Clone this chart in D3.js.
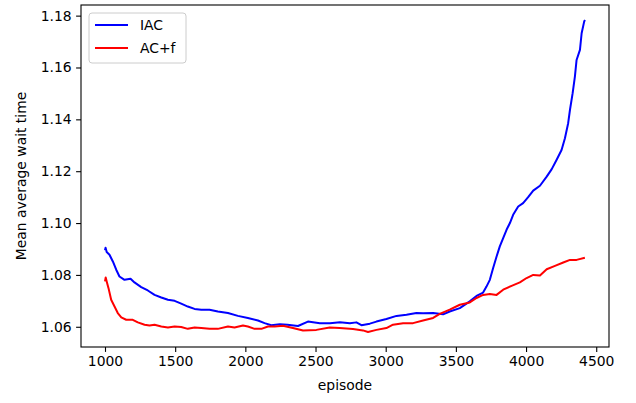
<!DOCTYPE html>
<html>
<head lang="en">
    <meta charset="UTF-8">
    <script type="text/javascript" src="https://cdn.jsdelivr.net/npm/d3@7/dist/d3.min.js"></script>
    <title></title>
</head>
<body style="margin:0;background:#fff">
<style>
    svg text{
        font-family: "DejaVu Sans", sans-serif;
        font-size: 13.9px;
        fill: #000;
    }
</style>
<script type="text/javascript">
    // data
    var seriesNames = ["IAC", "AC+f"];
    var seriesColors = ["#0000ff", "#ff0000"];
    var xTicks = [1000, 1500, 2000, 2500, 3000, 3500, 4000, 4500];
    var yTicks = [1.06, 1.08, 1.10, 1.12, 1.14, 1.16, 1.18];

    var iacEpisode = [1000, 1004, 1012, 1032, 1056, 1080, 1103, 1139, 1182, 1210, 1258, 1305, 1353, 1401, 1448, 1496,
        1543, 1590, 1638, 1686, 1745, 1804, 1876, 1947, 2018, 2090, 2137, 2185, 2246, 2300, 2375, 2446, 2531,
        2603, 2674, 2745, 2791, 2827, 2887, 2934, 3005, 3077, 3148, 3219, 3266, 3338, 3409, 3456, 3528, 3599,
        3647, 3694, 3718, 3742, 3765, 3790, 3813, 3837, 3861, 3885, 3908, 3944, 3979, 4015, 4051, 4099, 4147,
        4183, 4218, 4253, 4277, 4300, 4313, 4332, 4348, 4360, 4384, 4396, 4414, 4420];
    var iacWait = [1.0895, 1.0905, 1.0888, 1.0878, 1.0852, 1.0820, 1.0794, 1.0781, 1.0785, 1.0771, 1.0753, 1.0740,
        1.0723, 1.0713, 1.0704, 1.0700, 1.0689, 1.0678, 1.0669, 1.0666, 1.0666, 1.0659, 1.0653, 1.0642, 1.0634,
        1.0624, 1.0614, 1.0606, 1.0610, 1.0608, 1.0603, 1.0620, 1.0614, 1.0614, 1.0617, 1.0614, 1.0617, 1.0606,
        1.0612, 1.0620, 1.0630, 1.0642, 1.0646, 1.0653, 1.0652, 1.0653, 1.0648, 1.0659, 1.0672, 1.0698, 1.0719,
        1.0732, 1.0755, 1.0781, 1.0826, 1.0871, 1.0910, 1.0942, 1.0974, 1.1000, 1.1032, 1.1064, 1.1077, 1.1100,
        1.1125, 1.1144, 1.1179, 1.1208, 1.1244, 1.1282, 1.1327, 1.1385, 1.1437, 1.1501, 1.1565, 1.1629, 1.1668,
        1.1732, 1.1777, 1.1783];

    var acfEpisode = [1000, 1005, 1012, 1025, 1044, 1068, 1091, 1116, 1151, 1198, 1234, 1282, 1317, 1353, 1401,
        1448, 1496, 1543, 1590, 1638, 1686, 1745, 1804, 1876, 1923, 1983, 2018, 2066, 2114, 2161, 2209, 2268,
        2339, 2411, 2506, 2601, 2672, 2767, 2838, 2874, 2934, 3005, 3052, 3124, 3195, 3266, 3338, 3385, 3456,
        3528, 3599, 3647, 3694, 3742, 3790, 3837, 3897, 3956, 4004, 4051, 4099, 4147, 4206, 4265, 4313, 4360, 4419];
    var acfWait = [1.0775, 1.0790, 1.0775, 1.0749, 1.0704, 1.0678, 1.0653, 1.0636, 1.0627, 1.0627, 1.0617, 1.0608,
        1.0605, 1.0608, 1.0601, 1.0597, 1.0601, 1.0599, 1.0592, 1.0597, 1.0595, 1.0592, 1.0592, 1.0601, 1.0597,
        1.0605, 1.0601, 1.0592, 1.0592, 1.0601, 1.0601, 1.0604, 1.0595, 1.0586, 1.0588, 1.0597, 1.0595, 1.0591,
        1.0586, 1.0580, 1.0588, 1.0595, 1.0608, 1.0614, 1.0614, 1.0624, 1.0634, 1.0650, 1.0666, 1.0685, 1.0694,
        1.0711, 1.0723, 1.0726, 1.0723, 1.0743, 1.0758, 1.0771, 1.0788, 1.0800, 1.0798, 1.0822, 1.0835, 1.0848,
        1.0858, 1.0858, 1.0866];

    // 设置画布
    var w1 = 636;
    var h1 = 403;
    var padL = 81, padR = 609, padT = 5, padB = 347;
    var svg = d3.select("body")
            .append("svg")
            .attr("width", w1)
            .attr("height", h1);

    var x = d3.scaleLinear().domain([829, 4591]).range([padL, padR]);
    var y = d3.scaleLinear().domain([1.0522, 1.1841]).range([padB, padT]);

    var series = [
        {name: seriesNames[0], color: seriesColors[0], xs: iacEpisode, ys: iacWait},
        {name: seriesNames[1], color: seriesColors[1], xs: acfEpisode, ys: acfWait}
    ];

    var line = d3.line()
            .x(function (d) { return x(d[0]); })
            .y(function (d) { return y(d[1]); });

    // 画线
    series.forEach(function (s) {
        svg.append("path")
                .attr("d", line(d3.zip(s.xs, s.ys)))
                .attr("fill", "none")
                .attr("stroke", s.color)
                .attr("stroke-width", 2)
                .attr("stroke-linejoin", "round");
    });

    // axes
    var xAxis = svg.append("g")
            .attr("transform", "translate(0," + padB + ")")
            .call(d3.axisBottom(x).tickValues(xTicks).tickSize(4.9).tickPadding(4.5).tickFormat(d3.format("d")));
    var yAxis = svg.append("g")
            .attr("transform", "translate(" + padL + ",0)")
            .call(d3.axisLeft(y).tickValues(yTicks).tickSize(4.9).tickPadding(4.5).tickFormat(d3.format(".2f")));
    [xAxis, yAxis].forEach(function (a) {
        a.select(".domain").remove();
        a.selectAll("line").attr("stroke", "#000").attr("stroke-width", 1.1);
        a.selectAll("text").attr("font-family", "DejaVu Sans").attr("font-size", "13.9px").attr("fill", "#000");
    });

    svg.append("rect")
            .attr("x", padL).attr("y", padT)
            .attr("width", padR - padL).attr("height", padB - padT)
            .attr("fill", "none").attr("stroke", "#000").attr("stroke-width", 1.1);

    svg.append("text")
            .attr("x", (padL + padR) / 2).attr("y", 390)
            .attr("text-anchor", "middle")
            .text("episode");
    svg.append("text")
            .attr("transform", "translate(26," + (padT + padB) / 2 + ") rotate(-90)")
            .attr("text-anchor", "middle")
            .text("Mean average wait time");

    // legend
    var lg = svg.append("g");
    lg.append("rect")
            .attr("x", 89).attr("y", 13).attr("width", 97).attr("height", 50).attr("rx", 3)
            .attr("fill", "#fff").attr("fill-opacity", 0.8)
            .attr("stroke", "#cccccc").attr("stroke-width", 1);
    series.forEach(function (s, i) {
        var yy = 25 + i * 23;
        lg.append("line")
                .attr("x1", 95).attr("x2", 128).attr("y1", yy).attr("y2", yy)
                .attr("stroke", s.color).attr("stroke-width", 2);
        lg.append("text")
                .attr("x", 140).attr("y", yy + 5)
                .text(s.name);
    });
</script>

</body>
</html>
